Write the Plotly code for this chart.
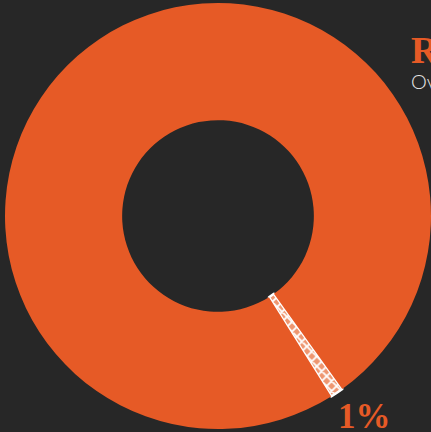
import plotly.graph_objects as go

labels = ["Minority", "Rest"]
values = [1, 99]
title_text = "Remote work share"
subtitle_text = "Overall respondents"

BG = "#272727"
ORANGE = "#E65A26"
LIGHT = "#EE9670"

W, H = 431, 432

fig = go.Figure(go.Pie(
    labels=labels,
    values=values,
    hole=0.45,
    sort=False,
    direction="clockwise",
    rotation=144.3,
    textinfo="none",
    hoverinfo="label+percent",
    marker=dict(
        colors=[LIGHT, ORANGE],
        pattern=dict(shape=["x", ""], fgcolor="white", bgcolor=[LIGHT, ORANGE],
                     size=7, solidity=0.45),
        line=dict(color=["white", ORANGE], width=[2.5, 0]),
    ),
    domain=dict(x=[5 / W, 1.0], y=[1 - 429 / H, 1 - 3 / H]),
    showlegend=False,
))

pct = round(100 * values[0] / sum(values))

fig.add_annotation(
    x=336 / W, y=1 - 395 / H, xref="paper", yref="paper",
    xanchor="left", yanchor="top", showarrow=False,
    text=f"<b>{pct}%</b>",
    font=dict(family="Liberation Serif", size=35, color=ORANGE),
)
fig.add_annotation(
    x=409 / W, y=1 - 27 / H, xref="paper", yref="paper",
    xanchor="left", yanchor="top", showarrow=False,
    text=f"<b>{title_text}</b>",
    font=dict(family="Liberation Serif", size=38, color=ORANGE),
)
fig.add_annotation(
    x=409 / W, y=1 - 67 / H, xref="paper", yref="paper",
    xanchor="left", yanchor="top", showarrow=False,
    text=subtitle_text,
    font=dict(family="Lato", size=20, color="#E6E6E6", weight=300),
)

fig.update_layout(
    width=W, height=H,
    margin=dict(l=0, r=0, t=0, b=0),
    paper_bgcolor=BG, plot_bgcolor=BG,
)

fig.write_html("out.html")
